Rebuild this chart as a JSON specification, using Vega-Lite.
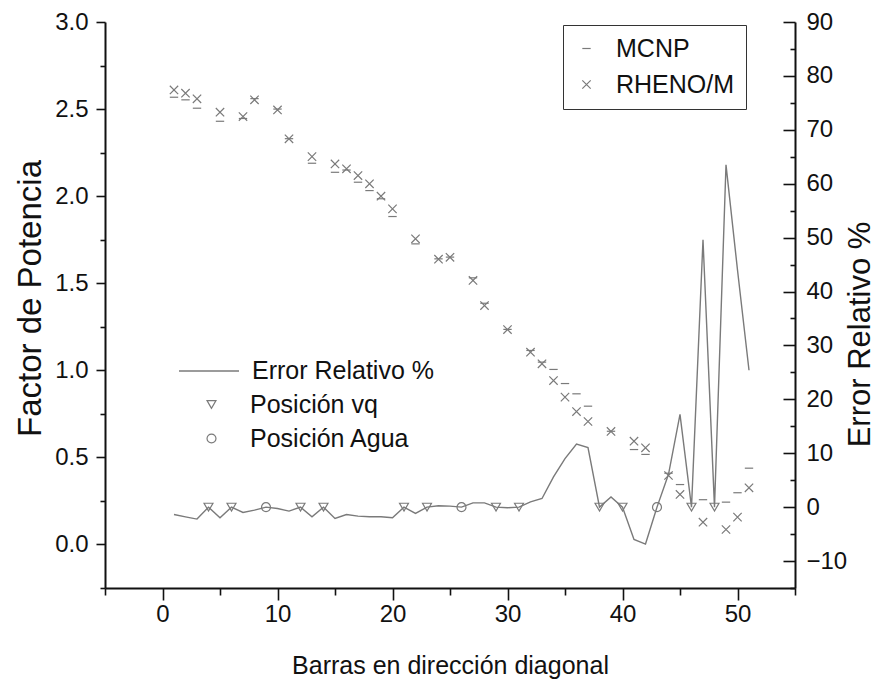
{
  "$schema": "https://vega.github.io/schema/vega-lite/v6.json",
  "width": 690,
  "height": 566,
  "autosize": {"type": "none"},
  "padding": {"left": 105, "top": 22, "right": 85, "bottom": 96},
  "background": "white",
  "config": {
    "view": {"stroke": null},
    "font": "Liberation Sans",
    "axis": {
      "domainColor": "#111", "domainWidth": 2, "tickColor": "#111", "tickWidth": 1.6,
      "labelFont": "Liberation Sans", "labelFontSize": 24, "labelColor": "#111",
      "titleFont": "Liberation Sans", "titleFontSize": 24, "titleFontWeight": "normal", "titleColor": "#111",
      "grid": false, "labelOverlap": false, "labelBound": false, "labelFlush": false
    },
    "legend": {"labelFont": "Liberation Sans", "labelFontSize": 25, "labelColor": "#111", "labelLimit": 400}
  },
  "datasets": {
    "pf": [
      {"x": 1, "serie": "MCNP", "v": 2.568}, {"x": 2, "serie": "MCNP", "v": 2.553}, {"x": 3, "serie": "MCNP", "v": 2.505},
      {"x": 5, "serie": "MCNP", "v": 2.430}, {"x": 7, "serie": "MCNP", "v": 2.446}, {"x": 8, "serie": "MCNP", "v": 2.56},
      {"x": 10, "serie": "MCNP", "v": 2.50}, {"x": 11, "serie": "MCNP", "v": 2.33}, {"x": 13, "serie": "MCNP", "v": 2.189},
      {"x": 15, "serie": "MCNP", "v": 2.137}, {"x": 16, "serie": "MCNP", "v": 2.15}, {"x": 17, "serie": "MCNP", "v": 2.080},
      {"x": 18, "serie": "MCNP", "v": 2.032}, {"x": 19, "serie": "MCNP", "v": 1.985}, {"x": 20, "serie": "MCNP", "v": 1.883},
      {"x": 22, "serie": "MCNP", "v": 1.726}, {"x": 24, "serie": "MCNP", "v": 1.64}, {"x": 25, "serie": "MCNP", "v": 1.65},
      {"x": 27, "serie": "MCNP", "v": 1.531}, {"x": 28, "serie": "MCNP", "v": 1.385}, {"x": 30, "serie": "MCNP", "v": 1.235},
      {"x": 32, "serie": "MCNP", "v": 1.114}, {"x": 33, "serie": "MCNP", "v": 1.047}, {"x": 34, "serie": "MCNP", "v": 1.005},
      {"x": 35, "serie": "MCNP", "v": 0.924}, {"x": 36, "serie": "MCNP", "v": 0.865}, {"x": 37, "serie": "MCNP", "v": 0.794},
      {"x": 39, "serie": "MCNP", "v": 0.65}, {"x": 41, "serie": "MCNP", "v": 0.545}, {"x": 42, "serie": "MCNP", "v": 0.517},
      {"x": 44, "serie": "MCNP", "v": 0.409}, {"x": 45, "serie": "MCNP", "v": 0.344}, {"x": 47, "serie": "MCNP", "v": 0.257},
      {"x": 49, "serie": "MCNP", "v": 0.243}, {"x": 50, "serie": "MCNP", "v": 0.297}, {"x": 51, "serie": "MCNP", "v": 0.438},
      {"x": 1, "serie": "RHENO/M", "v": 2.610}, {"x": 2, "serie": "RHENO/M", "v": 2.591}, {"x": 3, "serie": "RHENO/M", "v": 2.559},
      {"x": 5, "serie": "RHENO/M", "v": 2.482}, {"x": 7, "serie": "RHENO/M", "v": 2.457}, {"x": 8, "serie": "RHENO/M", "v": 2.553},
      {"x": 10, "serie": "RHENO/M", "v": 2.495}, {"x": 11, "serie": "RHENO/M", "v": 2.329}, {"x": 13, "serie": "RHENO/M", "v": 2.227},
      {"x": 15, "serie": "RHENO/M", "v": 2.185}, {"x": 16, "serie": "RHENO/M", "v": 2.157}, {"x": 17, "serie": "RHENO/M", "v": 2.118},
      {"x": 18, "serie": "RHENO/M", "v": 2.071}, {"x": 19, "serie": "RHENO/M", "v": 2.000}, {"x": 20, "serie": "RHENO/M", "v": 1.927},
      {"x": 22, "serie": "RHENO/M", "v": 1.755}, {"x": 24, "serie": "RHENO/M", "v": 1.638}, {"x": 25, "serie": "RHENO/M", "v": 1.649},
      {"x": 27, "serie": "RHENO/M", "v": 1.516}, {"x": 28, "serie": "RHENO/M", "v": 1.372}, {"x": 30, "serie": "RHENO/M", "v": 1.234},
      {"x": 32, "serie": "RHENO/M", "v": 1.104}, {"x": 33, "serie": "RHENO/M", "v": 1.037}, {"x": 34, "serie": "RHENO/M", "v": 0.941},
      {"x": 35, "serie": "RHENO/M", "v": 0.846}, {"x": 36, "serie": "RHENO/M", "v": 0.763}, {"x": 37, "serie": "RHENO/M", "v": 0.706},
      {"x": 39, "serie": "RHENO/M", "v": 0.649}, {"x": 41, "serie": "RHENO/M", "v": 0.593}, {"x": 42, "serie": "RHENO/M", "v": 0.555},
      {"x": 44, "serie": "RHENO/M", "v": 0.396}, {"x": 45, "serie": "RHENO/M", "v": 0.287}, {"x": 47, "serie": "RHENO/M", "v": 0.128},
      {"x": 49, "serie": "RHENO/M", "v": 0.086}, {"x": 50, "serie": "RHENO/M", "v": 0.157}, {"x": 51, "serie": "RHENO/M", "v": 0.325}
    ],
    "err": [
      {"x": 1, "e": -1.36}, {"x": 2, "e": -1.8}, {"x": 3, "e": -2.22}, {"x": 4, "e": 0}, {"x": 5, "e": -1.98},
      {"x": 6, "e": 0}, {"x": 7, "e": -0.99}, {"x": 8, "e": -0.56}, {"x": 9, "e": 0}, {"x": 10, "e": -0.25},
      {"x": 11, "e": -0.74}, {"x": 12, "e": 0}, {"x": 13, "e": -1.79}, {"x": 14, "e": 0}, {"x": 15, "e": -2.1},
      {"x": 16, "e": -1.36}, {"x": 17, "e": -1.67}, {"x": 18, "e": -1.79}, {"x": 19, "e": -1.79}, {"x": 20, "e": -1.98},
      {"x": 21, "e": 0}, {"x": 22, "e": -1.17}, {"x": 23, "e": 0}, {"x": 24, "e": 0.25}, {"x": 25, "e": 0.19},
      {"x": 26, "e": 0}, {"x": 27, "e": 0.8}, {"x": 28, "e": 0.8}, {"x": 29, "e": 0}, {"x": 30, "e": -0.12},
      {"x": 31, "e": 0}, {"x": 32, "e": 0.99}, {"x": 33, "e": 1.6}, {"x": 34, "e": 5.6}, {"x": 35, "e": 9.0},
      {"x": 36, "e": 11.7}, {"x": 37, "e": 11.06}, {"x": 38, "e": 0}, {"x": 39, "e": 1.9}, {"x": 40, "e": 0},
      {"x": 41, "e": -6.0}, {"x": 42, "e": -6.85}, {"x": 43, "e": 0}, {"x": 44, "e": 6.1}, {"x": 45, "e": 17.2},
      {"x": 46, "e": 0}, {"x": 47, "e": 49.6}, {"x": 48, "e": 0}, {"x": 49, "e": 63.5}, {"x": 50, "e": 44},
      {"x": 51, "e": 25.4}
    ],
    "marks": [
      {"x": 4, "e": 0, "pos": "Posición vq"}, {"x": 6, "e": 0, "pos": "Posición vq"}, {"x": 9, "e": 0, "pos": "Posición Agua"},
      {"x": 12, "e": 0, "pos": "Posición vq"}, {"x": 14, "e": 0, "pos": "Posición vq"}, {"x": 21, "e": 0, "pos": "Posición vq"},
      {"x": 23, "e": 0, "pos": "Posición vq"}, {"x": 26, "e": 0, "pos": "Posición Agua"}, {"x": 29, "e": 0, "pos": "Posición vq"},
      {"x": 31, "e": 0, "pos": "Posición vq"}, {"x": 38, "e": 0, "pos": "Posición vq"}, {"x": 40, "e": 0, "pos": "Posición vq"},
      {"x": 43, "e": 0, "pos": "Posición Agua"}, {"x": 46, "e": 0, "pos": "Posición vq"}, {"x": 48, "e": 0, "pos": "Posición vq"}
    ]
  },
  "layer": [
    {
      "data": {"name": "pf"},
      "mark": {"type": "point", "filled": false, "strokeWidth": 1.2, "color": "#7a7a7a", "opacity": 1},
      "encoding": {
        "x": {
          "field": "x", "type": "quantitative",
          "scale": {"domain": [-5, 55], "nice": false, "zero": false},
          "axis": {
            "title": "Barras en dirección diagonal",
            "values": [-5, 0, 5, 10, 15, 20, 25, 30, 35, 40, 45, 50, 55],
            "labelExpr": "datum.value % 10 === 0 ? datum.label : ''",
            "tickSize": {"condition": {"test": "datum.value % 10 === 0", "value": 12}, "value": 7},
            "labelPadding": 2,
            "titleFontSize": 25,
            "titleY": 77, "titleBaseline": "middle", "titleAlign": "center"
          }
        },
        "y": {
          "field": "v", "type": "quantitative",
          "scale": {"domain": [-0.25, 3], "nice": false, "zero": false},
          "axis": {
            "title": "Factor de Potencia",
            "values": [-0.25, 0, 0.25, 0.5, 0.75, 1, 1.25, 1.5, 1.75, 2, 2.25, 2.5, 2.75, 3],
            "labelExpr": "datum.value % 0.5 === 0 ? format(datum.value, '.1f') : ''",
            "tickSize": {"condition": {"test": "datum.value % 0.5 === 0", "value": 9}, "value": 5},
            "labelPadding": 8,
            "titleFontSize": 33,
            "titleX": -75, "titleY": 276, "titleAngle": 270, "titleAlign": "center", "titleBaseline": "middle"
          }
        },
        "shape": {
          "field": "serie", "type": "nominal",
          "scale": {"domain": ["MCNP", "RHENO/M"], "range": ["M-1,0H1", "M-1,-1L1,1M-1,1L1,-1"]},
          "legend": {
            "orient": "none", "legendX": 458, "legendY": 3, "title": null,
            "strokeColor": "#333", "padding": 11, "rowPadding": 10,
            "symbolStrokeColor": "#7a7a7a", "symbolStrokeWidth": 1.2, "symbolSize": 70, "symbolFillColor": "transparent",
            "labelOffset": 17
          }
        },
        "size": {"value": 70}
      }
    },
    {
      "layer": [
        {
          "data": {"name": "err"},
          "mark": {"type": "line", "strokeWidth": 1.4},
          "encoding": {
            "x": {"field": "x", "type": "quantitative"},
            "y": {
              "field": "e", "type": "quantitative",
              "scale": {"domain": [-15, 90], "nice": false, "zero": false},
              "axis": {
                "orient": "right",
                "title": "Error Relativo %",
                "values": [-10, 0, 10, 20, 30, 40, 50, 60, 70, 80, 90],
                "ticks": false,
                "labelPadding": 11,
                "titleFontSize": 31,
                "titleX": 65, "titleY": 312, "titleAngle": 270, "titleAlign": "center", "titleBaseline": "middle"
              }
            },
            "color": {
              "datum": "Error Relativo %", "type": "nominal",
              "scale": {"range": ["#7a7a7a"]},
              "legend": {
                "orient": "none", "legendX": 73, "legendY": 318, "title": null, "padding": 0,
                "symbolType": "stroke", "symbolSize": 3600, "symbolStrokeWidth": 1.4, "labelOffset": 12
              }
            }
          }
        },
        {
          "data": {"name": "marks"},
          "mark": {"type": "point", "filled": false, "color": "#7a7a7a", "strokeWidth": 1.2, "opacity": 1, "size": 80},
          "encoding": {
            "x": {"field": "x", "type": "quantitative"},
            "y": {
              "field": "e", "type": "quantitative",
              "axis": {
                "orient": "left", "offset": -690, "domain": false, "labels": false, "title": null,
                "values": [-15, -10, -5, 0, 5, 10, 15, 20, 25, 30, 35, 40, 45, 50, 55, 60, 65, 70, 75, 80, 85, 90],
                "tickSize": {"condition": {"test": "datum.value % 10 === 0", "value": 12}, "value": 5}
              }
            },
            "shape": {
              "field": "pos", "type": "nominal",
              "scale": {"domain": ["Posición vq", "Posición Agua"], "range": ["triangle-down", "circle"]},
              "legend": {
                "orient": "none", "legendX": 94, "legendY": 370, "title": null, "padding": 0, "rowPadding": 8,
                "symbolStrokeColor": "#7a7a7a", "symbolStrokeWidth": 1.2, "symbolFillColor": "transparent",
                "symbolSize": 80, "labelOffset": 26
              }
            }
          }
        }
      ],
      "resolve": {"axis": {"y": "independent"}}
    }
  ],
  "resolve": {"scale": {"y": "independent", "shape": "independent"}}
}
